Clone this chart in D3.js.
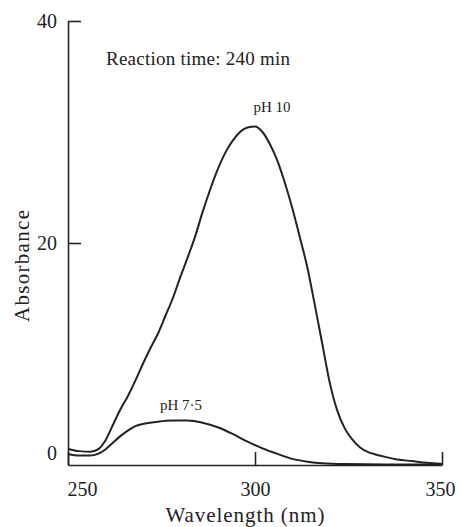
<!DOCTYPE html>
<html>
<head>
<meta charset="utf-8">
<script src="https://cdn.jsdelivr.net/npm/d3@7"></script>
<style>
  body { margin: 0; background: #fff; }
</style>
</head>
<body>
<svg id="chart"></svg>
<script>
const width  = 461;
const height = 527;

// spectra (wavelength nm, absorbance)
const wavelengths10 = [250, 253, 256, 258, 260, 262, 264, 266, 268, 270, 272, 274, 276, 278, 280, 282, 284, 286, 288, 290,
                       292, 294, 296, 298, 300, 302, 304, 306, 308, 310, 312, 314, 316, 318, 320, 322, 324, 326, 328, 330,
                       334, 338, 342, 346, 350];
const absorbance10  = [1.45, 1.25, 1.2, 1.4, 2.2, 3.6, 5.0, 6.2, 7.6, 9.1, 10.5, 11.8, 13.4, 15.0, 16.9, 18.7, 20.6, 22.8, 24.8, 26.6,
                       28.1, 29.2, 30.0, 30.4, 30.5, 30.0, 28.9, 27.4, 25.4, 23.1, 20.5, 17.8, 14.4, 10.9, 7.4, 4.9, 3.3, 2.3, 1.6, 1.2,
                       0.8, 0.5, 0.35, 0.2, 0.1];

const wavelengths75 = [250, 253, 256, 258, 260, 262, 264, 266, 268, 270, 274, 278, 282, 286, 290, 294, 298, 302, 306, 310,
                       314, 318, 324, 335, 350];
const absorbance75  = [1.0, 0.85, 0.85, 1.0, 1.4, 2.0, 2.6, 3.1, 3.5, 3.7, 3.9, 4.0, 4.0, 3.8, 3.4, 2.8, 2.1, 1.5, 1.0, 0.55,
                       0.3, 0.15, 0.08, 0.05, 0.05];

const xTicks = [250, 300, 350];
const yTicks = [0, 20, 40];

const series = [
  {name: 'pH 10',  x: wavelengths10, y: absorbance10},
  {name: 'pH 7·5', x: wavelengths75, y: absorbance75}
];

const x = d3.scaleLinear().domain([250, 350]).range([68, 442]);
const y = d3.scaleLinear().domain([0, 40]).range([465, 21]);

const svg = d3.select('#chart')
  .attr('width', width)
  .attr('height', height);

const ink = '#222';
const serif = "'Liberation Serif', 'Times New Roman', serif";

// x axis, ticks pointing inward
const gx = svg.append('g')
  .attr('transform', 'translate(0,' + y(0) + ')')
  .call(d3.axisBottom(x).tickValues(xTicks).tickSizeInner(-13).tickSizeOuter(0).tickPadding(17));
gx.select('.domain').attr('stroke', ink).attr('stroke-width', 1.6);
gx.selectAll('.tick line').attr('stroke', ink).attr('stroke-width', 1.6);
gx.selectAll('.tick text')
  .attr('fill', ink)
  .style('font-family', serif)
  .style('font-size', '20px')
  .attr('text-anchor', d => d == 250 ? 'start' : 'middle')
  .attr('dx', d => d == 250 ? -1 : (d == 350 ? -2 : 0));

// y axis
const gy = svg.append('g')
  .attr('transform', 'translate(' + x(250) + ',0)')
  .call(d3.axisLeft(y).tickValues(yTicks).tickSizeInner(-13).tickSizeOuter(0).tickPadding(11));
gy.select('.domain').attr('stroke', ink).attr('stroke-width', 1.6);
gy.selectAll('.tick line').attr('stroke', ink).attr('stroke-width', 1.6)
  .attr('display', d => d == 0 ? 'none' : null);
gy.selectAll('.tick text')
  .attr('fill', ink)
  .style('font-family', serif)
  .style('font-size', '20px')
  .attr('y', d => d == 0 ? -12 : 0);

// axis titles
svg.append('text')
  .attr('x', 245).attr('y', 522)
  .attr('text-anchor', 'middle')
  .attr('fill', ink)
  .style('font-family', serif)
  .style('font-size', '21px')
  .attr('textLength', 159)
  .text('Wavelength (nm)');

svg.append('text')
  .attr('transform', 'translate(29,266) rotate(-90)')
  .attr('text-anchor', 'middle')
  .attr('fill', ink)
  .style('font-family', serif)
  .style('font-size', '21px')
  .attr('textLength', 112)
  .text('Absorbance');

svg.append('text')
  .attr('x', 106).attr('y', 65)
  .attr('fill', ink)
  .style('font-family', serif)
  .style('font-size', '19px')
  .attr('textLength', 184)
  .text('Reaction time: 240 min');

// curves
const line = d3.line()
  .x(d => x(d[0]))
  .y(d => y(d[1]))
  .curve(d3.curveMonotoneX);

svg.append('g')
  .selectAll('path')
  .data(series)
  .join('path')
    .attr('d', s => line(s.x.map((w, i) => [w, s.y[i]])))
    .attr('fill', 'none')
    .attr('stroke', ink)
    .attr('stroke-width', 2);

// curve labels
svg.append('text')
  .attr('x', 272).attr('y', 112)
  .attr('text-anchor', 'middle')
  .attr('fill', ink)
  .style('font-family', serif)
  .style('font-size', '15px')
  .text(series[0].name);

svg.append('text')
  .attr('x', 181).attr('y', 410)
  .attr('text-anchor', 'middle')
  .attr('fill', ink)
  .style('font-family', serif)
  .style('font-size', '15px')
  .text(series[1].name);
</script>
</body>
</html>
